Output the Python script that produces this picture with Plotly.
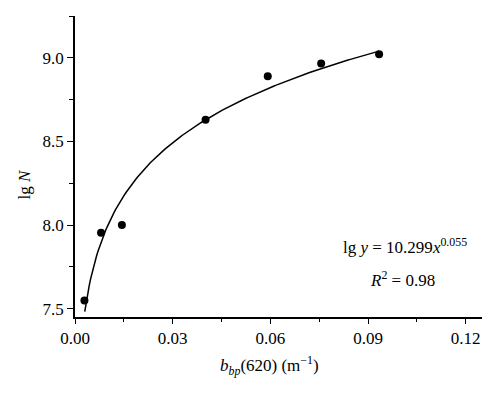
import numpy as np
import plotly.graph_objects as go

# Measured data points
bbp = [0.0029, 0.0080, 0.0144, 0.0401, 0.0592, 0.0756, 0.0934]
lgN = [7.548, 7.954, 8.000, 8.630, 8.890, 8.966, 9.022]

# Fit shown on the chart: lg y = A * x^B
FIT_A = 10.299
FIT_B = 0.055
FIT_X_START = 0.0030
FIT_X_END = 0.0934

x_ticks = [0.00, 0.03, 0.06, 0.09, 0.12]
x_tick_labels = ["0.00", "0.03", "0.06", "0.09", "0.12"]
y_ticks = [7.5, 8.0, 8.5, 9.0]
y_tick_labels = ["7.5", "8.0", "8.5", "9.0"]

fx = np.linspace(FIT_X_START, FIT_X_END, 200)
fy = FIT_A * fx ** FIT_B

font = "Liberation Serif"
fs = 17

fig = go.Figure()
fig.add_trace(go.Scatter(x=fx, y=fy, mode="lines",
                         line=dict(color="black", width=1.5), hoverinfo="skip"))
fig.add_trace(go.Scatter(x=bbp, y=lgN, mode="markers",
                         marker=dict(color="black", size=8)))

fig.update_layout(
    width=500, height=393,
    margin=dict(l=75, r=18, t=16, b=76),
    paper_bgcolor="white", plot_bgcolor="white",
    showlegend=False,
    font=dict(family=font, size=fs, color="black"),
    xaxis=dict(range=[0, 0.125], tickvals=x_ticks, ticktext=x_tick_labels,
               showgrid=False, zeroline=False, showline=True, linecolor="black",
               linewidth=1.5, ticks="outside", ticklen=5, tickwidth=1.2,
               tickcolor="black", tickfont=dict(family=font, size=fs),
               minor=dict(ticks="outside", ticklen=3, tickwidth=1.2,
                          tickcolor="black", dtick=0.015, tick0=0, showgrid=False)),
    yaxis=dict(range=[7.45, 9.25], tickvals=y_ticks, ticktext=y_tick_labels,
               showgrid=False, zeroline=False, showline=True, linecolor="black",
               linewidth=1.5, ticks="outside", ticklen=6, tickwidth=1.2,
               tickcolor="black", tickfont=dict(family=font, size=fs),
               minor=dict(ticks="outside", ticklen=4, tickwidth=1.2,
                          tickcolor="black", dtick=0.25, tick0=7.5, showgrid=False)),
    annotations=[
        dict(text="lg <i>N</i>", xref="paper", yref="paper", x=-0.123, y=0.44,
             textangle=-90, showarrow=False, font=dict(family=font, size=fs),
             xanchor="center", yanchor="middle"),
        dict(text="<i>b</i><sub><i>bp</i></sub>(620) (m<sup>−1</sup>)",
             xref="paper", yref="paper", x=0.477, y=-0.16, showarrow=False,
             font=dict(family=font, size=fs), xanchor="center", yanchor="middle"),
        dict(text="lg <i>y</i> = 10.299<i>x</i><sup>0.055</sup>",
             xref="paper", yref="paper", x=0.811, y=0.235, showarrow=False,
             font=dict(family=font, size=fs), xanchor="center", yanchor="middle"),
        dict(text="<i>R</i><sup>2</sup> = 0.98",
             xref="paper", yref="paper", x=0.805, y=0.125, showarrow=False,
             font=dict(family=font, size=fs), xanchor="center", yanchor="middle"),
    ],
)

fig.write_html("out.html", config={"displayModeBar": False},
               post_script="document.body.style.margin='0';document.body.style.overflow='hidden';")
